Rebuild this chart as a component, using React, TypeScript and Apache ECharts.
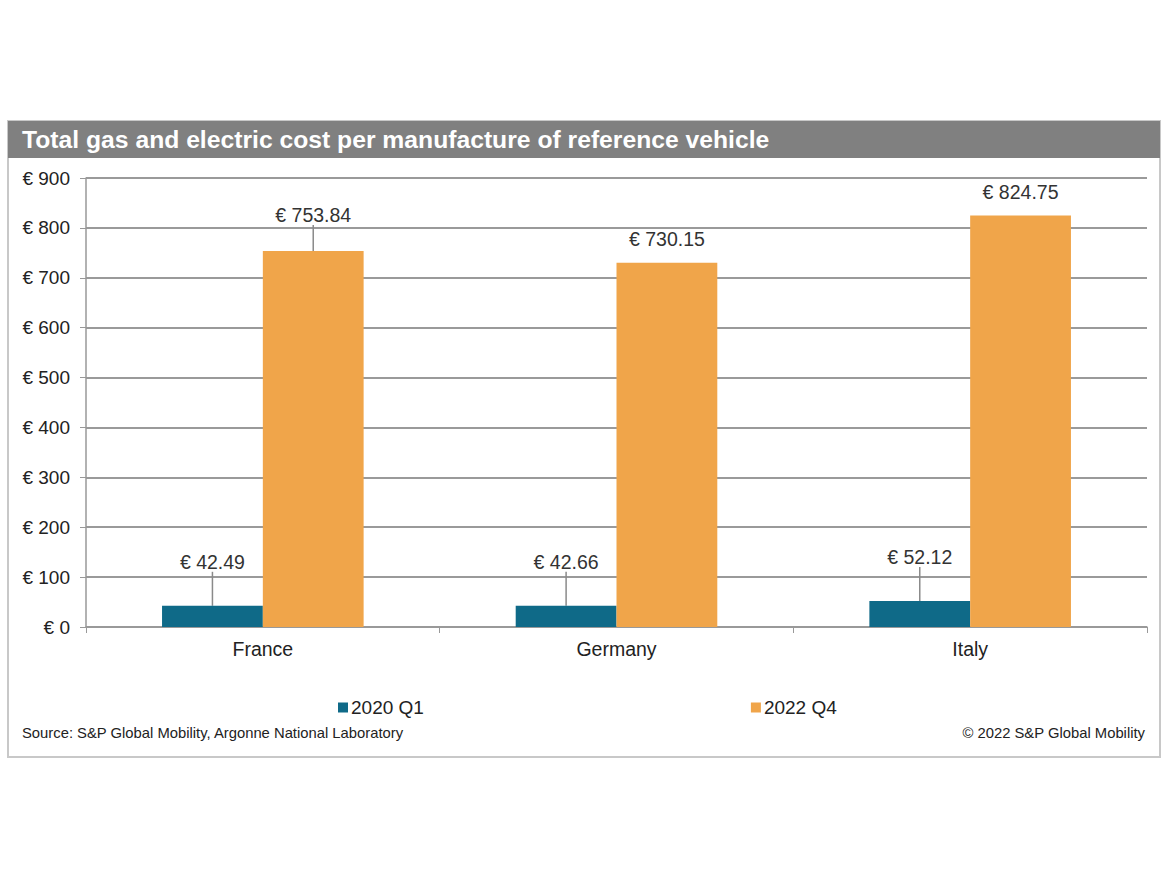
import React, { useEffect, useRef } from "react";
import * as echarts from "echarts";

const categories = ["France", "Germany", "Italy"];
const seriesNames = ["2020 Q1", "2022 Q4"];
const values2020Q1 = [42.49, 42.66, 52.12];
const values2022Q4 = [753.84, 730.15, 824.75];
const yTicks = { min: 0, max: 900, interval: 100 };
const titleText = "Total gas and electric cost per manufacture of reference vehicle";
const sourceText = "Source: S&P Global Mobility, Argonne National Laboratory";
const copyrightText = "© 2022 S&P Global Mobility";

const FONT = "'Liberation Sans', Arial, sans-serif";
const TEAL = "#0f6a88";
const ORANGE = "#f0a54a";
const label2020Dy = [-29, -29, -29];
const label2022Dy = [-21, -9, -9];
const label2022Line = [true, false, false];

export default function App() {
  const ref = useRef<HTMLDivElement>(null);
  useEffect(() => {
    if (!ref.current) return;
    const chart = echarts.init(ref.current, null, { renderer: "svg" });
    const fmt = (p: any) => "€ " + Number(p.value).toFixed(2);
    chart.setOption({
      animation: false,
      backgroundColor: "#ffffff",
      textStyle: { fontFamily: FONT },
      graphic: [
        {
          type: "rect",
          z: -10,
          shape: { x: 8, y: 121, width: 1152, height: 636 },
          style: { fill: "#ffffff", stroke: "#c8c8c8", lineWidth: 2 },
        },
        {
          type: "rect",
          z: -9,
          shape: { x: 8, y: 121, width: 1152, height: 37 },
          style: { fill: "#808080" },
        },
        {
          type: "text",
          x: 22,
          y: 139,
          style: {
            text: titleText,
            fill: "#ffffff",
            font: `bold 24.7px ${FONT}`,
            textVerticalAlign: "middle",
          },
        },
        {
          type: "text",
          x: 22,
          y: 733,
          style: {
            text: sourceText,
            fill: "#222222",
            font: `14.8px ${FONT}`,
            textVerticalAlign: "middle",
          },
        },
        {
          type: "text",
          x: 1145,
          y: 733,
          style: {
            text: copyrightText,
            fill: "#222222",
            font: `14.8px ${FONT}`,
            textAlign: "right",
            textVerticalAlign: "middle",
          },
        },
      ],
      grid: { left: 86, right: 23, top: 178, bottom: 251, containLabel: false },
      legend: {
        data: seriesNames,
        left: 333,
        top: 693,
        itemWidth: 10,
        itemHeight: 10,
        itemGap: 327,
        icon: "rect",
        textStyle: { fontSize: 19, color: "#222222", fontFamily: FONT, padding: [0, 0, 0, -2] },
      },
      xAxis: {
        type: "category",
        data: categories,
        axisLine: { show: true, lineStyle: { color: "#999999", width: 1.5 } },
        axisTick: { show: true, length: 6, alignWithLabel: false, lineStyle: { color: "#999999" } },
        axisLabel: { fontSize: 19.5, color: "#222222", margin: 12, fontFamily: FONT },
      },
      yAxis: {
        type: "value",
        min: yTicks.min,
        max: yTicks.max,
        interval: yTicks.interval,
        axisLine: { show: true, lineStyle: { color: "#999999", width: 1.5 } },
        axisTick: { show: true, length: 6, lineStyle: { color: "#999999" } },
        axisLabel: {
          fontSize: 19,
          color: "#222222",
          margin: 16,
          fontFamily: FONT,
          formatter: (v: number) => "€ " + v,
        },
        splitLine: { show: true, lineStyle: { color: "#9a9a9a", width: 2 } },
      },
      series: [
        {
          name: seriesNames[0],
          type: "bar",
          data: values2020Q1,
          barGap: "0%",
          barCategoryGap: "43%",
          itemStyle: { color: TEAL },
          label: {
            show: true,
            position: "top",
            formatter: fmt,
            fontSize: 19.5,
            color: "#333333",
            fontFamily: FONT,
          },
          labelLine: { show: true, lineStyle: { color: "#8a8a8a", width: 1.5 } },
          labelLayout: (p: any) => ({ dy: label2020Dy[p.dataIndex] }),
        },
        {
          name: seriesNames[1],
          type: "bar",
          data: values2022Q4.map((v, i) => ({
            value: v,
            labelLine: { show: label2022Line[i] },
          })),
          barGap: "0%",
          barCategoryGap: "43%",
          itemStyle: { color: ORANGE },
          label: {
            show: true,
            position: "top",
            formatter: fmt,
            fontSize: 19.5,
            color: "#333333",
            fontFamily: FONT,
          },
          labelLine: { show: true, lineStyle: { color: "#8a8a8a", width: 1.5 } },
          labelLayout: (p: any) => ({ dy: label2022Dy[p.dataIndex] }),
        },
      ],
    });
    return () => chart.dispose();
  }, []);
  return (
    <div
      ref={ref}
      style={{ position: "fixed", left: 0, top: 0, width: 1170, height: 878 }}
    />
  );
}
